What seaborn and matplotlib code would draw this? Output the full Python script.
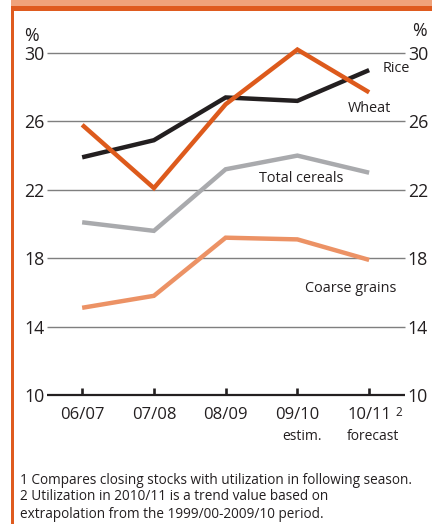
import matplotlib
matplotlib.use("Agg")
import matplotlib.pyplot as plt
from matplotlib.patches import Rectangle
import seaborn as sns
import pandas as pd

seasons = ["06/07", "07/08", "08/09", "09/10", "10/11"]
rice = [23.9, 24.9, 27.4, 27.2, 29.0]
wheat = [25.8, 22.1, 27.0, 30.2, 27.7]
total_cereals = [20.1, 19.6, 23.2, 24.0, 23.0]
coarse_grains = [15.1, 15.8, 19.2, 19.1, 17.9]
y_ticks = [10, 14, 18, 22, 26, 30]

series = {"Rice": rice, "Wheat": wheat, "Total cereals": total_cereals,
          "Coarse grains": coarse_grains}
rows = []
for name, vals in series.items():
    for i, (s, v) in enumerate(zip(seasons, vals)):
        rows.append({"pos": i, "season": s, "series": name, "value": v})
df = pd.DataFrame(rows)

palette = {"Rice": "#231F20", "Wheat": "#DD5A1C", "Total cereals": "#A9AAAD",
           "Coarse grains": "#EC9265"}

sns.set_theme(style="white")
plt.rcParams["font.family"] = ["Open Sans", "DejaVu Sans"]

W, H = 432, 524
fig = plt.figure(figsize=(W / 100, H / 100), dpi=100)

def fx(x):
    return x / W

def fy(y):
    return 1 - y / H

ax_l, ax_r, ax_t, ax_b = 47, 405, 53, 395
ax = fig.add_axes([fx(ax_l), fy(ax_b), fx(ax_r - ax_l), (ax_b - ax_t) / H])

# grid lines
for t in y_ticks[1:]:
    ax.axhline(t, color="#7F7F7F", lw=1.0, zorder=1)
ax.axhline(10, color="#231F20", lw=1.6, zorder=2, clip_on=False)

sns.lineplot(data=df, x="pos", y="value", hue="series", palette=palette,
             hue_order=["Coarse grains", "Total cereals", "Rice", "Wheat"],
             lw=3.2, ax=ax, legend=False, zorder=3, clip_on=False)
for ln in ax.lines:
    ln.set_clip_on(False)
    ln.set_solid_joinstyle("miter")
    ln.set_solid_capstyle("butt")

ax.set_xlim(-0.49, 4.5)
ax.set_ylim(10, 30)
for s in ax.spines.values():
    s.set_visible(False)
ax.set_xlabel("")
ax.set_ylabel("")
ax.set_yticks(y_ticks)
ax.set_yticklabels([str(t) for t in y_ticks])
ax.tick_params(axis="y", length=0, pad=2, labelsize=12.8, labelcolor="#231F20",
               labelleft=True, labelright=True)
ax.set_xticks(range(len(seasons)))
ax.set_xticklabels([])
ax.tick_params(axis="x", length=0)
# upward tick marks on the base line
for i in range(len(seasons)):
    ax.plot([i, i], [10, 10.4], color="#231F20", lw=1.9, zorder=2,
            solid_capstyle="butt", clip_on=False)

# category labels
for i, s in enumerate(seasons):
    ax.annotate(s, xy=(i, 10), xycoords="data", xytext=(0, -20),
                textcoords="offset pixels", ha="center", va="center",
                fontsize=12, color="#231F20")
ax.annotate("2", xy=(4, 10), xytext=(30, -17), textcoords="offset pixels",
            ha="center", va="center", fontsize=8.5, color="#231F20")
ax.annotate("estim.", xy=(3, 10), xytext=(5, -41), textcoords="offset pixels",
            ha="center", va="center", fontsize=10, color="#231F20")
ax.annotate("forecast", xy=(4, 10), xytext=(4, -41), textcoords="offset pixels",
            ha="center", va="center", fontsize=10, color="#231F20")

# series labels (figure pixels)
txt = dict(fontsize=10.4, color="#231F20", va="center")
fig.text(fx(410), fy(68), "Rice", ha="right", **txt)
fig.text(fx(391), fy(108), "Wheat", ha="right", **txt)
fig.text(fx(259), fy(178), "Total cereals", ha="left", **txt)
fig.text(fx(305), fy(288), "Coarse grains", ha="left", **txt)

# percent signs
fig.text(fx(31), fy(36), "%", ha="center", va="center", fontsize=12.8, color="#231F20")
fig.text(fx(419), fy(31), "%", ha="center", va="center", fontsize=12.8, color="#231F20")

# footnotes
notes = ["1 Compares closing stocks with utilization in following season.",
         "2 Utilization in 2010/11 is a trend value based on",
         "extrapolation from the 1999/00-2009/10 period."]
for k, n in enumerate(notes):
    fig.text(fx(20), fy(480 + 17 * k), n, ha="left", va="center",
             fontsize=9.8, color="#231F20")

# frame decorations
fig.add_artist(Rectangle((fx(11), fy(6)), fx(W - 11), 6 / H,
                         color="#F0A37B", lw=0, transform=fig.transFigure))
fig.add_artist(Rectangle((fx(11), fy(11)), fx(W - 11), 5 / H,
                         color="#DF5B1F", lw=0, transform=fig.transFigure))
fig.add_artist(Rectangle((fx(11), 0), fx(3), fy(8),
                         color="#DF5B1F", lw=0, transform=fig.transFigure))

fig.savefig("out.png", dpi=100)
